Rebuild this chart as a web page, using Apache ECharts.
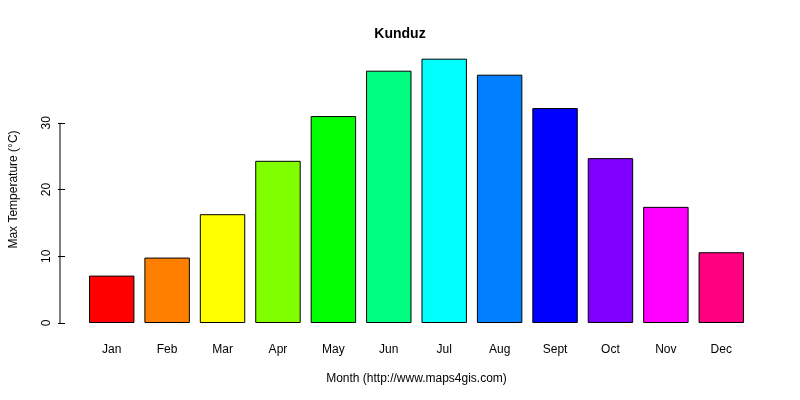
<!DOCTYPE html><html><head><meta charset="utf-8"><script src="https://cdn.jsdelivr.net/npm/echarts@6/dist/echarts.min.js"></script></head><body style="margin:0"><div id="c" style="width:800px;height:400px"></div><script>
const months=["Jan","Feb","Mar","Apr","May","Jun","Jul","Aug","Sept","Oct","Nov","Dec"];
const maxTemp=[7.1,9.8,16.3,24.3,31.0,37.8,39.6,37.2,32.2,24.7,17.4,10.6];
const colors=["#FF0000","#FF8000","#FFFF00","#80FF00","#00FF00","#00FF80","#00FFFF","#0080FF","#0000FF","#8000FF","#FF00FF","#FF0080"];
const yTicks=[0,10,20,30];
const ch=echarts.init(document.getElementById('c'));
const F='Liberation Sans, Arial, sans-serif';
ch.setOption({animation:false,backgroundColor:'#fff',
title:{text:'Kunduz',left:'center',top:22,textStyle:{fontFamily:F,fontSize:14,fontWeight:'bold',color:'#000'}},
grid:{left:79,right:51,top:56,bottom:77},
xAxis:{type:'category',data:months,axisLine:{show:false},axisTick:{show:false},
 axisLabel:{fontFamily:F,fontSize:12,color:'#000',margin:21},
 name:'Month (http://www.maps4gis.com)',nameLocation:'middle',nameGap:50,nameTextStyle:{fontFamily:F,fontSize:12,color:'#000'}},
yAxis:{type:'value',min:0,max:40,interval:10,offset:19,splitLine:{show:false},axisLine:{show:false},
 axisTick:{show:true,length:7,lineStyle:{color:'#000'},customValues:yTicks},
 axisLabel:{fontFamily:F,fontSize:12,color:'#000',rotate:90,margin:12,customValues:yTicks},
 name:'Max Temperature (°C)',nameLocation:'middle',nameGap:45,nameTextStyle:{fontFamily:F,fontSize:12,color:'#000'}},
series:[{type:'bar',barCategoryGap:'18%',data:maxTemp.map((v,i)=>({value:v,itemStyle:{color:colors[i],borderColor:'#000',borderWidth:1}}))}]
});
const x=ch.convertToPixel({gridIndex:0},[0,0])[0];
const y0=ch.convertToPixel({yAxisIndex:0},0),y30=ch.convertToPixel({yAxisIndex:0},30);
ch.setOption({graphic:[{type:'line',shape:{x1:60,y1:y0,x2:60,y2:y30},style:{stroke:'#000',lineWidth:1}}]});
</script></body></html>
